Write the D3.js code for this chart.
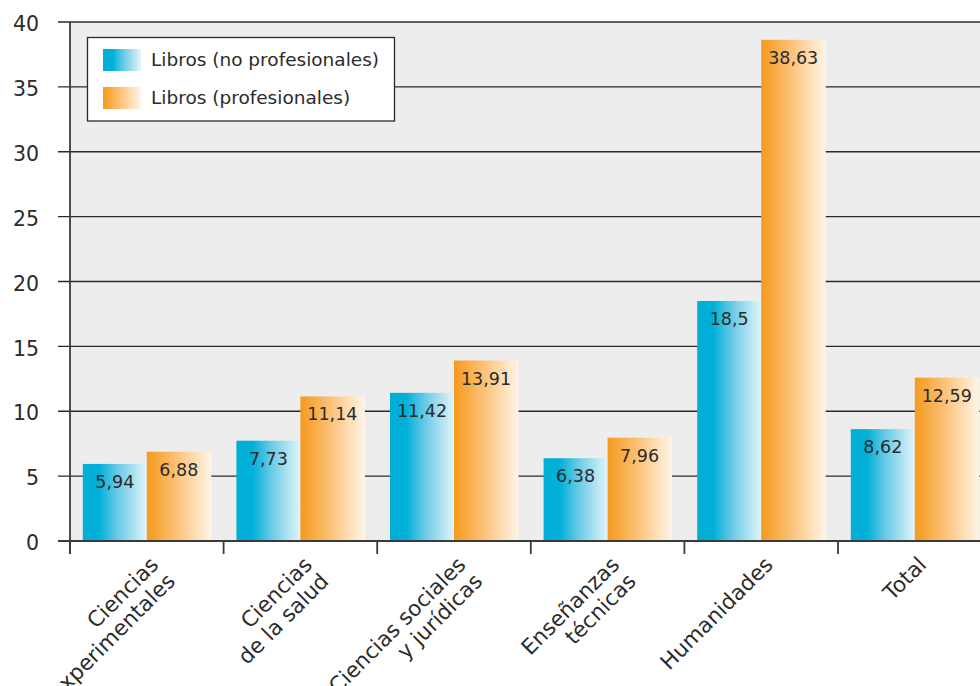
<!DOCTYPE html>
<html>
<head>
<meta charset="utf-8">
<script src="https://cdn.jsdelivr.net/npm/d3@7"></script>
<style>
  body { margin: 0; background: #fff; }
  svg { display: block; }
  text { font-family: "DejaVu Sans", sans-serif; fill: #2b2b2b; }
</style>
</head>
<body>
<svg id="chart" width="980" height="686"></svg>
<script>
const categories = [
  ["Ciencias", "experimentales"],
  ["Ciencias", "de la salud"],
  ["Ciencias sociales", "y jurídicas"],
  ["Enseñanzas", "técnicas"],
  ["Humanidades"],
  ["Total"]
];
const seriesNames = ["Libros (no profesionales)", "Libros (profesionales)"];
const noProfesionales = [5.94, 7.73, 11.42, 6.38, 18.5, 8.62];
const profesionales = [6.88, 11.14, 13.91, 7.96, 38.63, 12.59];
const yTicks = [0, 5, 10, 15, 20, 25, 30, 35, 40];

(function () {
const svg = d3.select("#chart");
const W = 980;
const mLeft = 70, mTop = 22, mBottom = 541;
const bandW = 153.6;

const defs = svg.append("defs");
function grad(id, stops) {
  const g = defs.append("linearGradient").attr("id", id)
    .attr("x1", "0").attr("x2", "1").attr("y1", "0").attr("y2", "0");
  stops.forEach(s => g.append("stop").attr("offset", s[0]).attr("stop-color", s[1]));
}
grad("gCyan", [[0, "#00aed6"], [0.25, "#00b0d8"], [0.55, "#6ccbe6"], [1, "#e4f5fb"]]);
grad("gOrange", [[0, "#f59a1f"], [0.2, "#f8aa42"], [0.55, "#fcca8a"], [1, "#fff5e7"]]);
const fills = ["url(#gCyan)", "url(#gOrange)"];

const catIdx = categories.map((d, i) => i);
const x0 = d3.scaleBand().domain(catIdx).range([mLeft, mLeft + bandW * categories.length]).padding(0);
const x1 = d3.scaleBand().domain([0, 1]).range([12.8, x0.bandwidth() - 12.8]).padding(0);
const y = d3.scaleLinear().domain([0, 40]).range([mBottom, mTop]);

// background
svg.append("rect").attr("x", mLeft).attr("y", mTop).attr("width", W - mLeft).attr("height", mBottom - mTop)
  .attr("fill", "#ededed");

// gridlines + y ticks
const yAxis = svg.append("g");
yTicks.forEach(t => {
  yAxis.append("line").attr("x1", 58).attr("x2", W).attr("y1", y(t)).attr("y2", y(t))
    .attr("stroke", "#2a2a2a").attr("stroke-width", 1.4);
  yAxis.append("text").attr("x", 39).attr("y", y(t)).attr("dy", "0.45em")
    .attr("text-anchor", "end").attr("font-size", 20.5).text(t);
});

// bars
const data = [noProfesionales, profesionales];
const groups = svg.append("g").selectAll("g").data(catIdx).join("g")
  .attr("transform", i => `translate(${x0(i)},0)`);
[0, 1].forEach(s => {
  groups.append("rect")
    .attr("x", x1(s)).attr("width", x1.bandwidth() + 0.5)
    .attr("y", i => y(data[s][i]))
    .attr("height", i => y(0) - y(data[s][i]))
    .attr("fill", fills[s]);
  groups.append("text")
    .attr("x", x1(s) + x1.bandwidth() / 2)
    .attr("y", i => y(data[s][i]) + 24)
    .attr("text-anchor", "middle").attr("font-size", 17.5)
    .text(i => String(data[s][i]).replace(".", ","));
});

// y axis line
svg.append("line").attr("x1", mLeft).attr("x2", mLeft).attr("y1", mTop).attr("y2", mBottom + 13)
  .attr("stroke", "#3a3a3a").attr("stroke-width", 1.8);
// x axis line
svg.append("line").attr("x1", 58).attr("x2", W).attr("y1", mBottom).attr("y2", mBottom)
  .attr("stroke", "#3a3a3a").attr("stroke-width", 1.8);
// category ticks
catIdx.forEach(i => {
  svg.append("line").attr("x1", x0(i)).attr("x2", x0(i)).attr("y1", mBottom).attr("y2", mBottom + 13)
    .attr("stroke", "#3a3a3a").attr("stroke-width", 1.8);
});

// category labels
const catFont = 21.5;
catIdx.forEach(i => {
  const cx = x0(i) + x0.bandwidth() / 2 + 2;
  const g = svg.append("g").attr("transform", `translate(${cx},${555}) rotate(-45)`);
  categories[i].forEach((line, k) => {
    g.append("text").attr("x", 0).attr("y", 15.5 + k * 23.5)
      .attr("text-anchor", "end").attr("font-size", catFont).text(line);
  });
});

// legend
const lg = svg.append("g");
lg.append("rect").attr("x", 87.5).attr("y", 37.5).attr("width", 307).attr("height", 83.5)
  .attr("fill", "#fff").attr("stroke", "#2a2a2a").attr("stroke-width", 1.3);
seriesNames.forEach((n, k) => {
  lg.append("rect").attr("x", 103).attr("y", 49 + k * 38).attr("width", 38).attr("height", 22)
    .attr("fill", fills[k]);
  lg.append("text").attr("x", 151).attr("y", 66 + k * 38).attr("font-size", 18.5).text(n);
});
})();
</script>
</body>
</html>
